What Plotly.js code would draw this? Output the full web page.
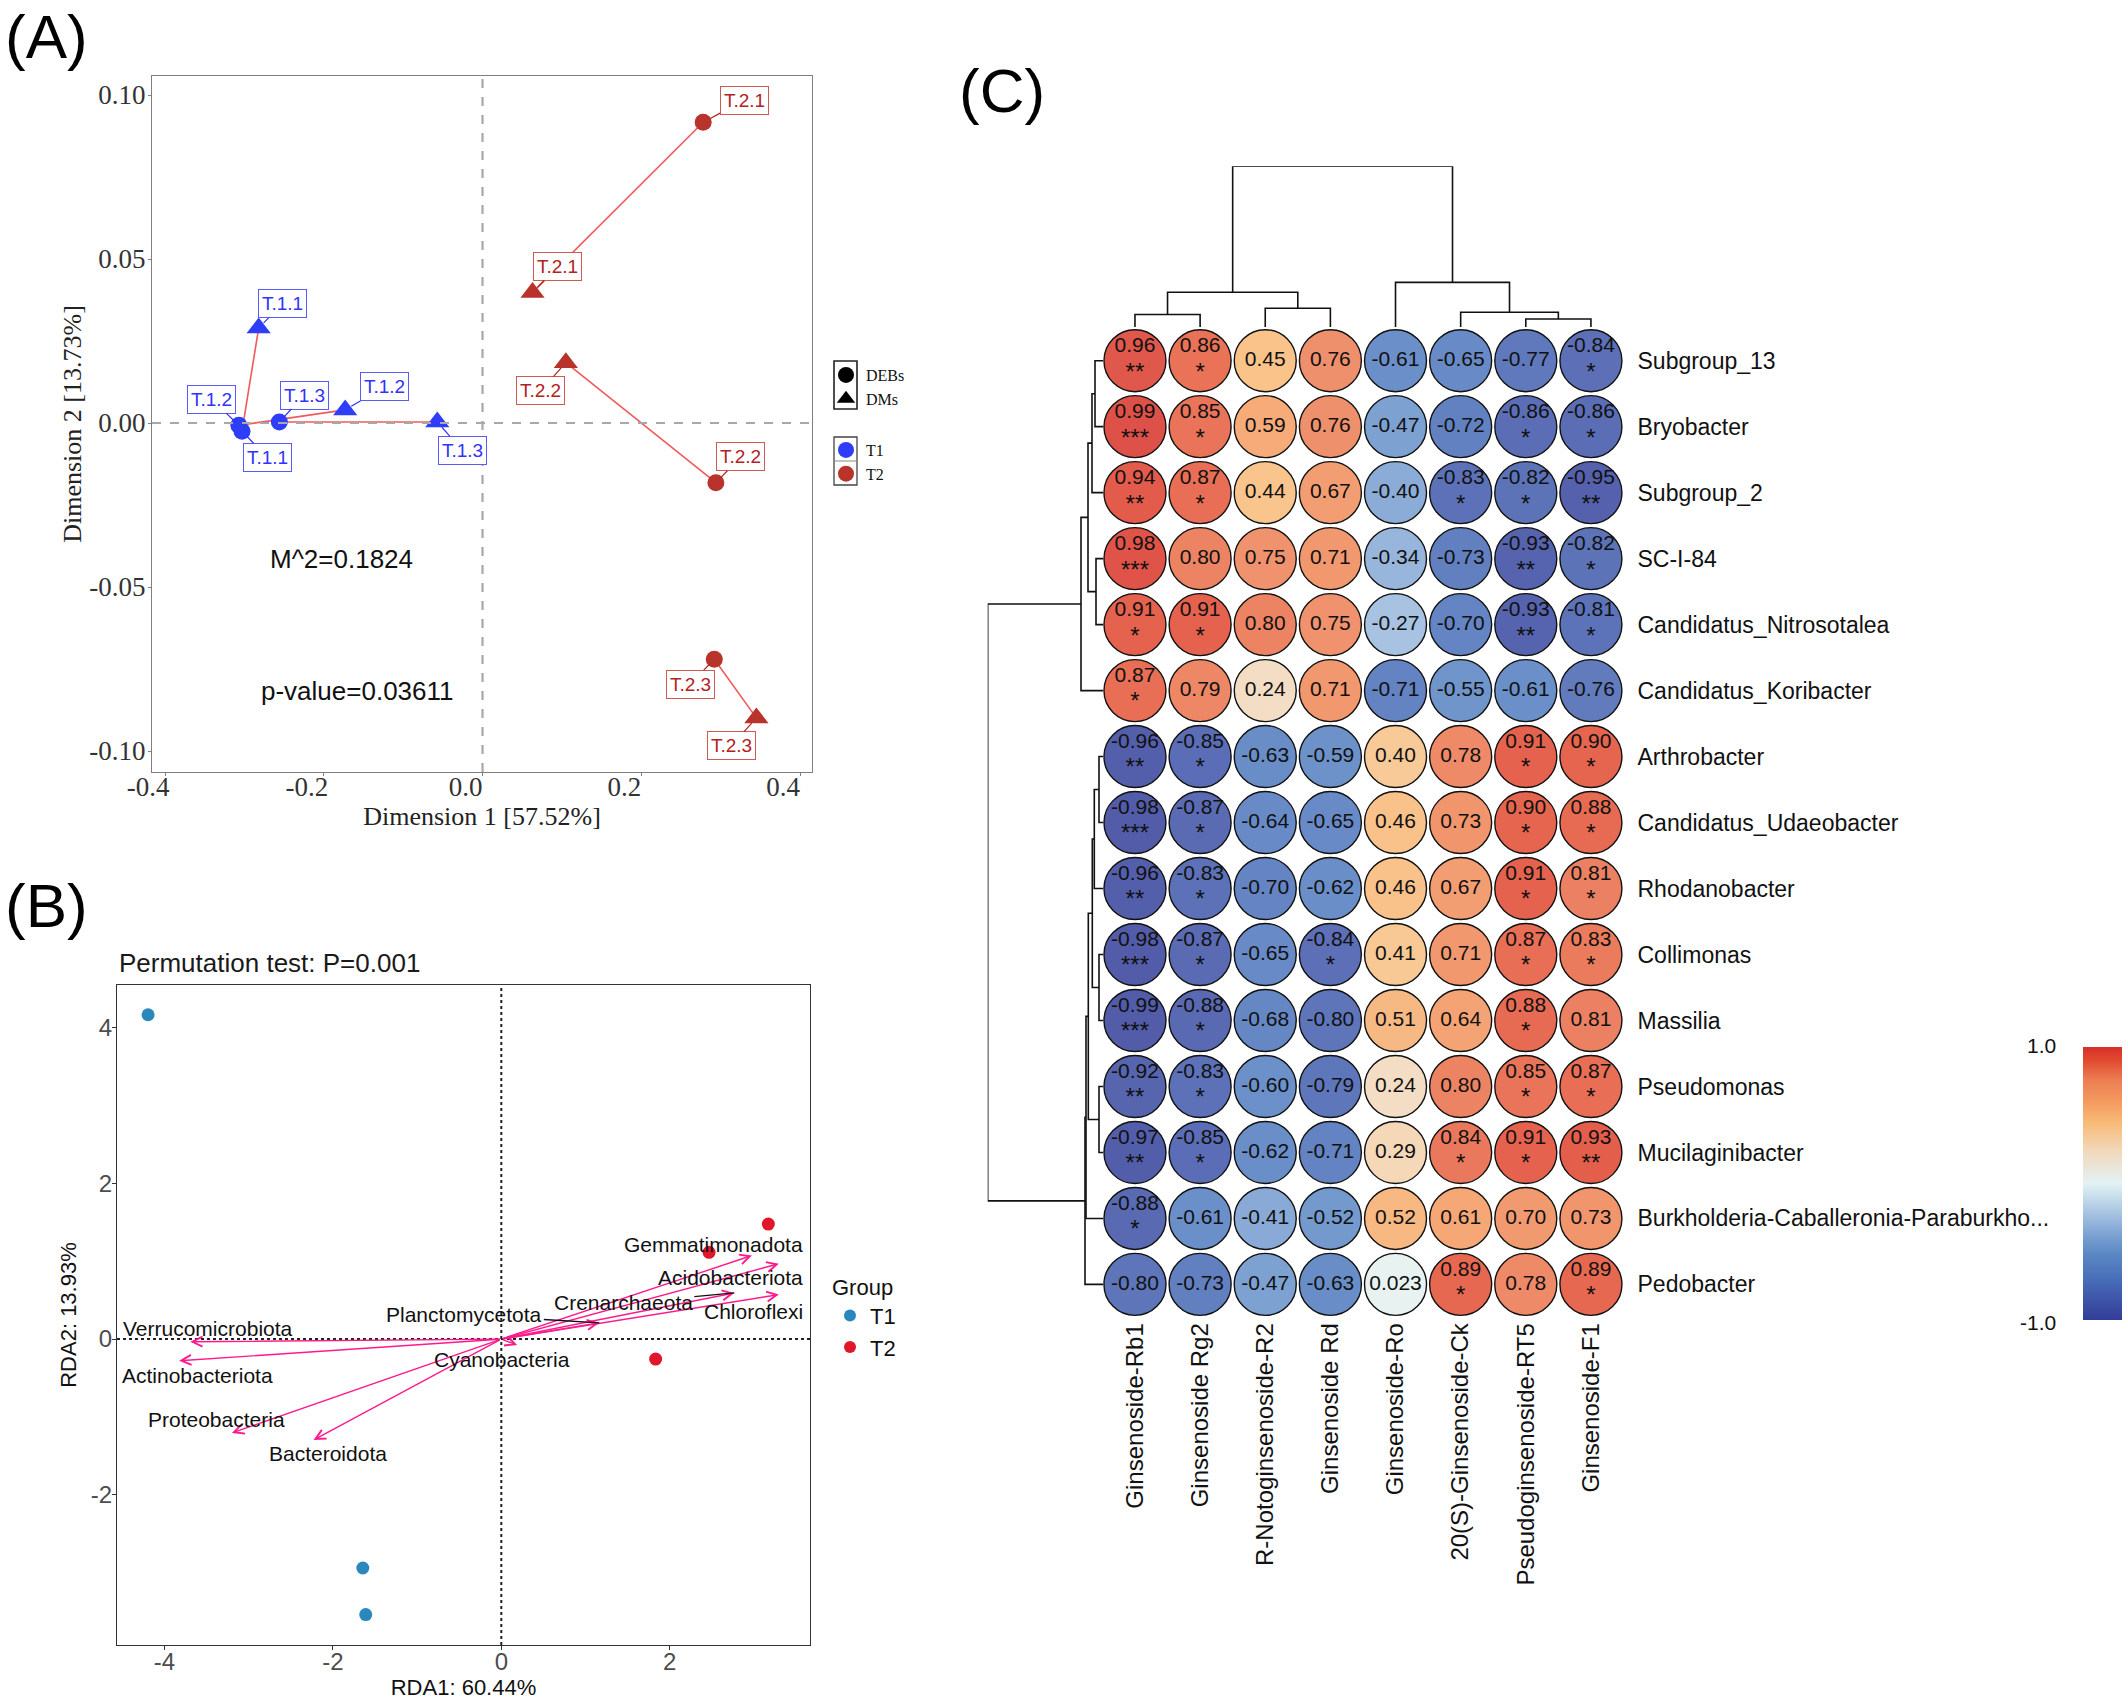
<!DOCTYPE html>
<html><head><meta charset="utf-8">
<script src="https://cdn.plot.ly/plotly-3.0.1.min.js"></script>
<style>html,body{margin:0;padding:0;background:#fff}#chart{width:2128px;height:1700px}</style>
</head><body><div id="chart"></div>
<script>
// ================= DATA =================
// Panel A: Procrustes analysis
const procSamples = ['T.1.1','T.1.2','T.1.3','T.2.1','T.2.2','T.2.3'];
const procGroup   = ['T1','T1','T1','T2','T2','T2'];
const debsX = [-0.303,-0.307,-0.256, 0.278, 0.294, 0.292];
const debsY = [-0.0025,-0.0007,0.0003,0.0917,-0.0182,-0.0720];
const dmsX  = [-0.282,-0.173,-0.057, 0.063, 0.105, 0.345];
const dmsY  = [0.029, 0.004, 0.0003, 0.0398, 0.0184,-0.0899];
const procStats = ['M^2=0.1824','p-value=0.03611'];
const procXTicks = [-0.4,-0.2,0,0.2,0.4];
const procYTicks = [-0.10,-0.05,0,0.05,0.10];

// Panel B: RDA
const rdaGroup = ['T1','T1','T1','T2','T2','T2'];
const rdaSiteX = [-4.195,-1.645,-1.610, 3.171, 2.467, 1.833];
const rdaSiteY = [ 4.161,-2.937,-3.535, 1.475, 1.113,-0.257];
const phyla  = ['Verrucomicrobiota','Actinobacteriota','Proteobacteria','Bacteroidota','Gemmatimonadota','Acidobacteriota','Crenarchaeota','Chloroflexi','Planctomycetota','Cyanobacteria'];
const phylaX = [-3.693,-3.826,-3.199,-2.230, 2.976, 3.296, 2.767, 3.296, 1.164, 0.188];
const phylaY = [-0.035,-0.278,-1.204,-1.294, 1.072, 0.967, 0.592, 0.571, 0.209,-0.077];
const rdaXTicks = [-4,-2,0,2];
const rdaYTicks = [-2,0,2,4];
const rdaTitle = 'Permutation test: P=0.001';

// Panel C: correlation heatmap
const compounds = ['Ginsenoside-Rb1','Ginsenoside Rg2','R-Notoginsenoside-R2','Ginsenoside Rd','Ginsenoside-Ro','20(S)-Ginsenoside-Ck','Pseudoginsenoside-RT5','Ginsenoside-F1'];
const taxa = ['Subgroup_13','Bryobacter','Subgroup_2','SC-I-84','Candidatus_Nitrosotalea','Candidatus_Koribacter','Arthrobacter','Candidatus_Udaeobacter','Rhodanobacter','Collimonas','Massilia','Pseudomonas','Mucilaginibacter','Burkholderia-Caballeronia-Paraburkho...','Pedobacter'];
const corr = [
  [ 0.96, 0.86, 0.45, 0.76,-0.61,-0.65,-0.77,-0.84],
  [ 0.99, 0.85, 0.59, 0.76,-0.47,-0.72,-0.86,-0.86],
  [ 0.94, 0.87, 0.44, 0.67,-0.40,-0.83,-0.82,-0.95],
  [ 0.98, 0.80, 0.75, 0.71,-0.34,-0.73,-0.93,-0.82],
  [ 0.91, 0.91, 0.80, 0.75,-0.27,-0.70,-0.93,-0.81],
  [ 0.87, 0.79, 0.24, 0.71,-0.71,-0.55,-0.61,-0.76],
  [-0.96,-0.85,-0.63,-0.59, 0.40, 0.78, 0.91, 0.90],
  [-0.98,-0.87,-0.64,-0.65, 0.46, 0.73, 0.90, 0.88],
  [-0.96,-0.83,-0.70,-0.62, 0.46, 0.67, 0.91, 0.81],
  [-0.98,-0.87,-0.65,-0.84, 0.41, 0.71, 0.87, 0.83],
  [-0.99,-0.88,-0.68,-0.80, 0.51, 0.64, 0.88, 0.81],
  [-0.92,-0.83,-0.60,-0.79, 0.24, 0.80, 0.85, 0.87],
  [-0.97,-0.85,-0.62,-0.71, 0.29, 0.84, 0.91, 0.93],
  [-0.88,-0.61,-0.41,-0.52, 0.52, 0.61, 0.70, 0.73],
  [-0.80,-0.73,-0.47,-0.63, 0.023,0.89, 0.78, 0.89]
];
const signif = [
  ['**','*','','','','','','*'],
  ['***','*','','','','','*','*'],
  ['**','*','','','','*','*','**'],
  ['***','','','','','','**','*'],
  ['*','*','','','','','**','*'],
  ['*','','','','','','',''],
  ['**','*','','','','','*','*'],
  ['***','*','','','','','*','*'],
  ['**','*','','','','','*','*'],
  ['***','*','','*','','','*','*'],
  ['***','*','','','','','*',''],
  ['**','*','','','','','*','*'],
  ['**','*','','','','*','*','**'],
  ['*','','','','','','',''],
  ['','','','','','*','','*']
];
// hierarchical clustering merges: [childA, childB, height]; leaves are 0..n-1
const rowMerges = [
  [0,1,8],[15,2,11],[3,4,7],[16,17,15],[18,5,22],
  [6,7,4],[20,8,8.7],[9,10,4],[21,22,10.7],[11,12,4],[23,24,14.7],[25,13,17],[26,14,18],
  [19,27,115.3]
];
const colMerges = [
  [0,1,12.5],[2,3,18.7],[8,9,34.8],[6,7,8],[5,11,14.7],[4,12,44.6],[10,13,160.7]
];

// ================= STYLE / LAYOUT HELPERS =================
const W = 2128, H = 1700;
const px = v => v / W;
const py = v => 1 - v / H;
const SANS = 'Liberation Sans, Arial, sans-serif';
const SERIF = 'Liberation Serif, Times New Roman, serif';
const procColor = {T1:'#2E3DF7', T2:'#B8332B'};
const procLabelColor = {T1:'#3232FF', T2:'#B2221E'};
const procLabelBorder = {T1:'#5A5AFF', T2:'#CF5A52'};
// label offsets in pixels (repelled label placement)
const debsLabelOff = [[25,26],[-27,-26],[25,-27],[41,-22],[25,-26],[-24,25]];
const dmsLabelOff  = [[24,-24],[39,-23],[25,28],[25,-26],[-25,28],[-25,28]];
const phylaLabelOff = [[18,-13],[18,15],[-15,-13],[14,14],[-38,-11],[-48,14],[-111,10],[-25,17],[-135,-8],[-15,14]];
const phylaLeader = [false,false,false,false,false,false,true,false,true,false];
const rdaColor = {T1:'#2A88BD', T2:'#E0162B'};
const arrowColor = '#FF1A8C';

const traces = [];
const annotations = [];
const shapes = [];

// ---------- Panel A ----------
const pairX = [], pairY = [];
for (let i = 0; i < procSamples.length; i++) {
  pairX.push(debsX[i], dmsX[i], null);
  pairY.push(debsY[i], dmsY[i], null);
}
traces.push({type:'scatter', mode:'lines', x:pairX, y:pairY, xaxis:'x', yaxis:'y',
  line:{color:'#F05A5A', width:1.6}, showlegend:false, hoverinfo:'skip'});
['T1','T2'].forEach(g => {
  const idx = procGroup.map((v,i)=>v===g?i:-1).filter(i=>i>=0);
  traces.push({type:'scatter', mode:'markers', x:idx.map(i=>debsX[i]), y:idx.map(i=>debsY[i]),
    xaxis:'x', yaxis:'y', marker:{symbol:'circle', size:17, color:procColor[g]}, showlegend:false, cliponaxis:false});
  traces.push({type:'scatter', mode:'markers', x:idx.map(i=>dmsX[i]), y:idx.map(i=>dmsY[i]),
    xaxis:'x', yaxis:'y', marker:{symbol:'triangle-up', size:21, color:procColor[g]}, showlegend:false, cliponaxis:false});
});
// legend keys
traces.push({type:'scatter', mode:'markers', x:[null], y:[null], xaxis:'x', yaxis:'y', name:'DEBs', legend:'legend',
  marker:{symbol:'circle', size:16, color:'#000'}});
traces.push({type:'scatter', mode:'markers', x:[null], y:[null], xaxis:'x', yaxis:'y', name:'DMs', legend:'legend',
  marker:{symbol:'triangle-up', size:16, color:'#000'}});
['T1','T2'].forEach(g => traces.push({type:'scatter', mode:'markers', x:[null], y:[null], xaxis:'x', yaxis:'y',
  name:g, legend:'legend2', marker:{symbol:'circle', size:16, color:procColor[g]}}));
// legend key frames
shapes.push({type:'rect', xref:'paper', yref:'paper', x0:px(834), x1:px(857), y0:py(361), y1:py(409),
  line:{color:'#222', width:1.6}, fillcolor:'rgba(0,0,0,0)'});
shapes.push({type:'rect', xref:'paper', yref:'paper', x0:px(834), x1:px(857), y0:py(437), y1:py(485),
  line:{color:'#444', width:1.3}, fillcolor:'rgba(0,0,0,0)'});
shapes.push({type:'line', xref:'paper', yref:'paper', x0:px(834), x1:px(857), y0:py(461), y1:py(461),
  line:{color:'#888', width:1}});

function procLabel(x, y, text, g, off) {
  annotations.push({xref:'x', yref:'y', x:x, y:y, ax:off[0], ay:off[1], text:text,
    showarrow:true, arrowhead:0, arrowwidth:1.2, arrowcolor:procLabelColor[g], standoff:7,
    font:{family:SANS, size:19, color:procLabelColor[g]}, bgcolor:'#fff',
    bordercolor:procLabelBorder[g], borderwidth:1, borderpad:3});
}
for (let i = 0; i < procSamples.length; i++) {
  procLabel(debsX[i], debsY[i], procSamples[i], procGroup[i], debsLabelOff[i]);
  procLabel(dmsX[i], dmsY[i], procSamples[i], procGroup[i], dmsLabelOff[i]);
}
annotations.push({xref:'x', yref:'y', x:-0.178, y:-0.0415, text:procStats[0], showarrow:false,
  font:{family:SANS, size:26, color:'#111'}});
annotations.push({xref:'x', yref:'y', x:-0.158, y:-0.0816, text:procStats[1], showarrow:false,
  font:{family:SANS, size:26, color:'#111'}});
shapes.push({type:'line', xref:'x', yref:'y domain', x0:0, x1:0, y0:0, y1:1, line:{color:'#A8A8A8', width:2.2, dash:'dash'}});
shapes.push({type:'line', xref:'x domain', yref:'y', x0:0, x1:1, y0:0, y1:0, line:{color:'#A8A8A8', width:2.2, dash:'dash'}});

// ---------- Panel B ----------
['T1','T2'].forEach(g => {
  const idx = rdaGroup.map((v,i)=>v===g?i:-1).filter(i=>i>=0);
  traces.push({type:'scatter', mode:'markers', x:idx.map(i=>rdaSiteX[i]), y:idx.map(i=>rdaSiteY[i]),
    xaxis:'x2', yaxis:'y2', name:g, legend:'legend3', marker:{symbol:'circle', size:13, color:rdaColor[g]}});
});
shapes.push({type:'line', xref:'x2', yref:'y2 domain', x0:0, x1:0, y0:0, y1:1, line:{color:'#222', width:2, dash:'dot'}});
shapes.push({type:'line', xref:'x2 domain', yref:'y2', x0:0, x1:1, y0:0, y1:0, line:{color:'#222', width:2, dash:'dot'}});
for (let i = 0; i < phyla.length; i++) {
  annotations.push({xref:'x2', yref:'y2', axref:'x2', ayref:'y2', x:phylaX[i], y:phylaY[i], ax:0, ay:0,
    text:'', showarrow:true, arrowhead:5, arrowsize:1.4, arrowwidth:1.4, arrowcolor:arrowColor, standoff:0});
}
for (let i = 0; i < phyla.length; i++) {
  const off = phylaLabelOff[i];
  if (phylaLeader[i]) {
    annotations.push({xref:'x2', yref:'y2', x:phylaX[i], y:phylaY[i], ax:off[0], ay:off[1], text:phyla[i],
      showarrow:true, arrowhead:0, arrowwidth:1.3, arrowcolor:'#111', standoff:0,
      font:{family:SANS, size:21, color:'#111'}});
  } else {
    annotations.push({xref:'x2', yref:'y2', x:phylaX[i], y:phylaY[i], xshift:off[0], yshift:-off[1], text:phyla[i],
      showarrow:false, font:{family:SANS, size:21, color:'#111'}});
  }
}
annotations.push({xref:'paper', yref:'paper', x:px(117), y:py(963), xanchor:'left', yanchor:'middle',
  text:rdaTitle, showarrow:false, font:{family:SANS, size:26, color:'#1a1a1a'}});

// ---------- Panel C ----------
const hx = [], hy = [], hv = [], htxt = [];
for (let r = 0; r < taxa.length; r++) {
  for (let c = 0; c < compounds.length; c++) {
    hx.push(c); hy.push(r); hv.push(corr[r][c]);
    const lab = corr[r][c].toPrecision(2);
    htxt.push(signif[r][c] ? lab + '<br><span style="font-size:24px">' + signif[r][c] + '</span>' : lab);
  }
}
const corrScale = [
  [0,'#333D98'],[0.08,'#3F56AA'],[0.16,'#4A72BA'],[0.24,'#5A87C4'],[0.30,'#769DD0'],[0.37,'#9BBADD'],
  [0.5,'#E2F2F4'],[0.62,'#F1D8BB'],[0.72,'#F8BB78'],[0.80,'#F49A5F'],[0.88,'#EC7D52'],[0.95,'#E24A30'],[1,'#D73027']
];
traces.push({type:'scatter', mode:'markers', x:hx, y:hy, xaxis:'x3', yaxis:'y3', showlegend:false, cliponaxis:false,
  hoverinfo:'skip',
  marker:{symbol:'circle', size:62, color:hv, cmin:-1, cmax:1, colorscale:corrScale, opacity:0.85, line:{width:0},
    colorbar:{x:px(2083), xanchor:'left', xref:'paper', y:py(1183.5), yanchor:'middle', yref:'paper',
      len:273, lenmode:'pixels', thickness:39, thicknessmode:'pixels', outlinewidth:0, xpad:0, ypad:0,
      showticklabels:false, ticks:''}}});
traces.push({type:'scatter', mode:'markers+text', x:hx, y:hy, xaxis:'x3', yaxis:'y3', showlegend:false, cliponaxis:false,
  hoverinfo:'skip', text:htxt, textposition:'middle center', textfont:{family:SANS, size:21, color:'#111'},
  marker:{symbol:'circle', size:62, color:'rgba(0,0,0,0)', line:{width:1.4, color:'#111'}}});

function dendro(n, merges) {
  const pos = [], hgt = [], P = [], Hh = [];
  for (let i = 0; i < n; i++) { pos[i] = i; hgt[i] = 0; }
  merges.forEach((m, k) => {
    const [a, b, h] = m, id = n + k;
    pos[id] = (pos[a] + pos[b]) / 2; hgt[id] = h;
    P.push(pos[a], pos[a], pos[b], pos[b], null);
    Hh.push(hgt[a], h, h, hgt[b], null);
  });
  return {pos:P, h:Hh};
}
const cd = dendro(compounds.length, colMerges);
traces.push({type:'scatter', mode:'lines', x:cd.pos, y:cd.h, xaxis:'x3', yaxis:'y4', showlegend:false,
  hoverinfo:'skip', line:{color:'#111', width:1.6}, cliponaxis:false});
const rd = dendro(taxa.length, rowMerges);
traces.push({type:'scatter', mode:'lines', x:rd.h, y:rd.pos, xaxis:'x5', yaxis:'y3', showlegend:false,
  hoverinfo:'skip', line:{color:'#111', width:1.6}, cliponaxis:false});

annotations.push({xref:'paper', yref:'paper', x:px(2058), y:py(1045), xanchor:'right', yanchor:'middle',
  text:'1.0', showarrow:false, font:{family:SANS, size:21, color:'#111'}});
annotations.push({xref:'paper', yref:'paper', x:px(2058), y:py(1322), xanchor:'right', yanchor:'middle',
  text:'-1.0', showarrow:false, font:{family:SANS, size:21, color:'#111'}});

// panel letters
[['(A)',3,37],['(B)',3,905],['(C)',957,90]].forEach(p => annotations.push({xref:'paper', yref:'paper',
  x:px(p[1]), y:py(p[2]), xanchor:'left', yanchor:'middle', text:p[0], showarrow:false,
  font:{family:SANS, size:62, color:'#000'}}));

// ---------- Layout ----------
const axA = {showgrid:false, zeroline:false, showline:true, mirror:true, linecolor:'#7f7f7f', linewidth:1.2,
  ticks:'outside', ticklen:3, tickcolor:'#7f7f7f', tickfont:{family:SERIF, size:27, color:'#333'}};
const axB = {showgrid:false, zeroline:false, showline:true, mirror:true, linecolor:'#333', linewidth:1.2,
  ticks:'outside', ticklen:4, tickcolor:'#333', tickfont:{family:SANS, size:24, color:'#4D4D4D'}};
const layout = {
  width:W, height:H, autosize:false, margin:{l:0, r:0, t:0, b:0}, paper_bgcolor:'#fff', plot_bgcolor:'rgba(0,0,0,0)',
  showlegend:true,
  xaxis:Object.assign({}, axA, {domain:[px(152), px(812)], range:[-0.4164, 0.4151], anchor:'y',
    tickvals:procXTicks, ticktext:procXTicks.map(v=>v.toFixed(1)), ticklabelstandoff:-13, ticklabelshift:-17,
    title:{text:'Dimension 1 [57.52%]', font:{family:SERIF, size:26, color:'#222'}, standoff:4}}),
  yaxis:Object.assign({}, axA, {domain:[py(772), py(76)], range:[-0.1064, 0.1058], anchor:'x',
    tickvals:procYTicks, ticktext:procYTicks.map(v=>v.toFixed(2)), ticklabelstandoff:-3,
    title:{text:'Dimension 2 [13.73%]', font:{family:SERIF, size:26, color:'#222'}, standoff:0}}),
  xaxis2:Object.assign({}, axB, {domain:[px(117), px(810)], range:[-4.564, 3.666], anchor:'y2',
    tickvals:rdaXTicks, ticktext:rdaXTicks.map(v=>v.toFixed(0)), ticklabelstandoff:-9,
    title:{text:'RDA1: 60.44%', font:{family:SANS, size:22, color:'#111'}, standoff:10}}),
  yaxis2:Object.assign({}, axB, {domain:[py(1645), py(985)], range:[-3.925, 4.543], anchor:'x2',
    tickvals:rdaYTicks, ticktext:rdaYTicks.map(v=>v.toFixed(0)), ticklabelstandoff:-5,
    title:{text:'RDA2: 13.93%', font:{family:SANS, size:22, color:'#111'}, standoff:8}}),
  xaxis3:{domain:[px(1102.4), px(1623.5)], range:[-0.5, 7.5], anchor:'y3', showgrid:false, zeroline:false,
    showline:false, ticks:'', tickvals:compounds.map((_,i)=>i), ticktext:compounds, tickangle:-90,
    tickfont:{family:SANS, size:24, color:'#111'}},
  yaxis3:{domain:[py(1317.4), py(327.7)], range:[14.5, -0.5], anchor:'x3', side:'right', showgrid:false,
    zeroline:false, showline:false, ticks:'', tickvals:taxa.map((_,i)=>i), ticktext:taxa, ticklabelstandoff:13,
    tickfont:{family:SANS, size:23, color:'#111'}},
  yaxis4:{domain:[py(327), py(166.3)], range:[0, 160.7], anchor:'x3', visible:false},
  xaxis5:{domain:[px(987.7), px(1103)], range:[115.3, 0], anchor:'y3', visible:false},
  legend:{x:px(826), y:py(358), xanchor:'left', yanchor:'top', bgcolor:'rgba(0,0,0,0)', borderwidth:0,
    font:{family:SERIF, size:16, color:'#111'}, itemsizing:'trace', tracegroupgap:0},
  legend2:{x:px(826), y:py(433), xanchor:'left', yanchor:'top', bgcolor:'rgba(0,0,0,0)', borderwidth:0,
    font:{family:SERIF, size:16, color:'#111'}, itemsizing:'trace', tracegroupgap:0},
  legend3:{x:px(830), y:py(1266), xanchor:'left', yanchor:'top', bgcolor:'rgba(0,0,0,0)', borderwidth:0,
    title:{text:'Group', font:{family:SANS, size:22, color:'#111'}},
    font:{family:SANS, size:22, color:'#111'}, itemsizing:'constant'},
  annotations:annotations, shapes:shapes
};
Plotly.newPlot('chart', traces, layout, {staticPlot:true, displayModeBar:false});
</script>
</body></html>
